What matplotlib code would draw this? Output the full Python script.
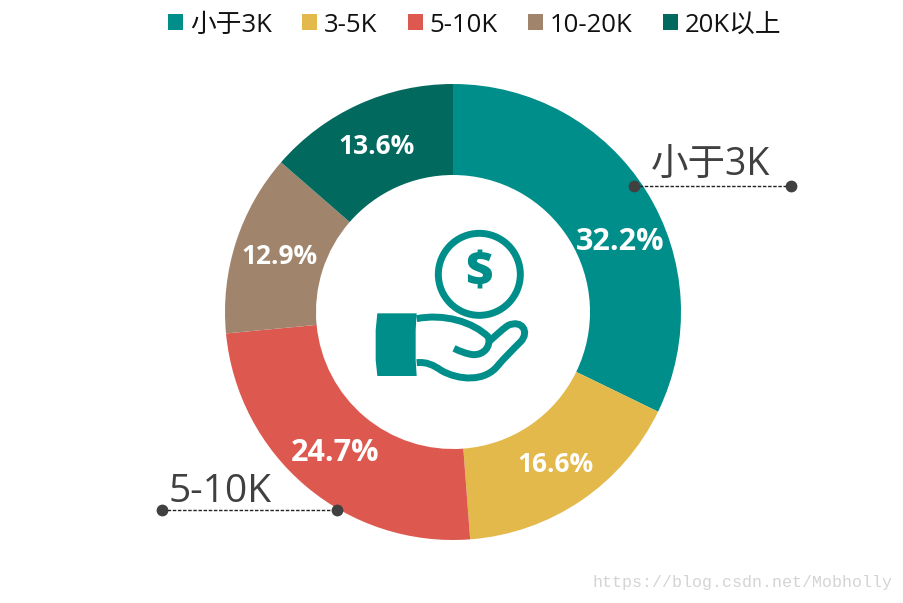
import matplotlib
matplotlib.use("Agg")
import matplotlib.pyplot as plt
from matplotlib.patches import Circle, PathPatch, Polygon
from matplotlib.path import Path

plt.rcParams['font.family'] = ['Open Sans', 'Noto Sans CJK SC', 'DejaVu Sans']

categories = ['小于3K', '3-5K', '5-10K', '10-20K', '20K以上']
values = [32.2, 16.6, 24.7, 12.9, 13.6]
colors = ['#008E8A', '#E3B94C', '#DD5950', '#A0856C', '#02695F']
pct_labels = ['32.2%', '16.6%', '24.7%', '12.9%', '13.6%']
pct_pos = [(620, 242), (555, 464), (335, 453), (279, 257), (377, 147)]
pct_size = [22, 19, 22, 19, 19]

W, H = 904, 603
fig = plt.figure(figsize=(W / 100, H / 100), dpi=100)
ax = fig.add_axes([0, 0, 1, 1])
ax.set_xlim(0, W)
ax.set_ylim(0, H)
Y = lambda y: H - y

wedges, _ = ax.pie(values, colors=colors, center=(453, Y(312)), radius=228,
                   startangle=90, counterclock=False,
                   wedgeprops=dict(width=91, linewidth=0), frame=True)
ax.set_xlim(0, W)
ax.set_ylim(0, H)
ax.set_aspect('equal')
ax.axis('off')

for lab, (x, y), s in zip(pct_labels, pct_pos, pct_size):
    ax.text(x, Y(y), lab, color='white', fontsize=s, fontweight='bold',
            ha='center', va='center')

leg = ax.legend(wedges, categories, ncols=5, loc='upper center',
                bbox_to_anchor=(475 / W, 1 + 8 / H), frameon=False,
                fontsize=18.5, handlelength=0.58, handleheight=0.58,
                handletextpad=0.27, columnspacing=1.18, labelcolor='#111111',
                borderpad=0.3)

# callouts
DARK = '#404040'
for (x0, x1, y, label, tx, ty, fs) in [(634, 791, 186, '小于3K', 651, 176, 27),
                                       (162, 337, 510, '5-10K', 169, 502, 28)]:
    ax.plot([x0, x1], [Y(y), Y(y)], color='#222222', lw=1, ls=(0, (2.5, 1.2)), zorder=4)
    ax.plot([x0, x1], [Y(y), Y(y)], ls='none', marker='o', ms=8.5, color=DARK,
            mew=0, zorder=5)
    ax.text(tx, Y(ty), label, color=DARK, fontsize=fs, ha='left', va='baseline')

# centre icon (outline coordinates taken in a 3x crop of the icon region)
T = lambda p: (360 + p[0] / 3, Y(220 + p[1] / 3))
TEAL = '#008E8A'
ax.add_patch(Circle(T((358, 163)), 41, fill=False, ec=TEAL, lw=5.0))
ax.text(*T((358, 163)), '$', color=TEAL, fontsize=34, fontweight='extra bold',
        ha='center', va='center', family='Open Sans')
cuff = [(52, 280), (170, 280), (167, 330), (167, 420), (170, 468), (52, 468),
        (47, 420), (47, 330)]
ax.add_patch(Polygon([T(p) for p in cuff], closed=True, fc=TEAL, ec='none'))

M, L, C = Path.MOVETO, Path.LINETO, Path.CURVE4
hand_v = [(170, 296), (250, 280), (340, 305), (386, 352),
          (392, 380), (372, 405), (340, 404),
          (320, 402), (300, 394), (282, 385)]
hand_c = [M, C, C, C, C, C, C, C, C, C]
ax.add_patch(PathPatch(Path([T(p) for p in hand_v], hand_c), fill=False, ec=TEAL,
                       lw=5.0, capstyle='butt'))
low_v = [(390, 362), (415, 340), (430, 325), (445, 316),
         (485, 298), (510, 335), (482, 365),
         (455, 392), (435, 412), (415, 435),
         (375, 488), (295, 480), (245, 452),
         (220, 435), (200, 425), (170, 428)]
low_c = [M, C, C, C, C, C, C, C, C, C, C, C, C, C, C, C]
ax.add_patch(PathPatch(Path([T(p) for p in low_v], low_c), fill=False, ec=TEAL,
                       lw=5.0, capstyle='butt'))

ax.text(593, Y(583), 'https://blog.csdn.net/Mobholly', family='Liberation Mono',
        fontsize=12, color='#D4D4D4', ha='left', va='center')

fig.savefig('out.png', dpi=100)
